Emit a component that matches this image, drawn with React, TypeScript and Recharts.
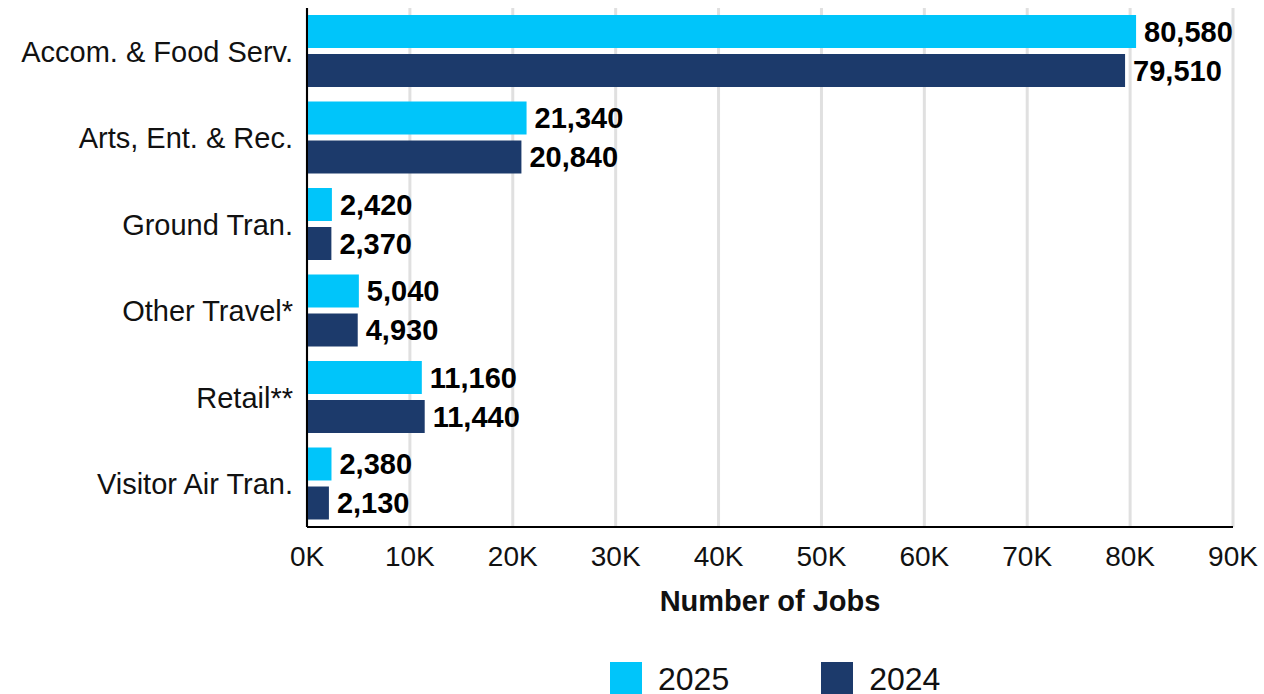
import { BarChart, Bar, XAxis, YAxis, CartesianGrid, Legend, LabelList } from 'recharts';

const categories = [
  'Accom. & Food Serv.',
  'Arts, Ent. & Rec.',
  'Ground Tran.',
  'Other Travel*',
  'Retail**',
  'Visitor Air Tran.',
];
const jobs2025 = [80580, 21340, 2420, 5040, 11160, 2380];
const jobs2024 = [79510, 20840, 2370, 4930, 11440, 2130];
const xTicks = [0, 10000, 20000, 30000, 40000, 50000, 60000, 70000, 80000, 90000];

const COLOR_2025 = '#00c5fa';
const COLOR_2024 = '#1c3a6b';
const FONT = 'Liberation Sans, Arial, sans-serif';

const data = categories.map((name, i) => ({ name, y2025: jobs2025[i], y2024: jobs2024[i] }));

const fmt = (v: number) => v.toLocaleString('en-US');

function LegendBox() {
  const items = [
    { label: '2025', color: COLOR_2025 },
    { label: '2024', color: COLOR_2024 },
  ];
  return (
    <div style={{ height: 50, display: 'flex', paddingLeft: 610, boxSizing: 'border-box', fontFamily: FONT }}>
      {items.map((it, i) => (
        <div key={it.label} style={{ display: 'flex', alignItems: 'flex-start', marginLeft: i ? 92 : 0, paddingTop: 18 }}>
          <span style={{ width: 32, height: 32, background: it.color, display: 'inline-block', marginRight: 16 }} />
          <span style={{ fontSize: 32, lineHeight: '32px', color: '#111', marginTop: 1 }}>{it.label}</span>
        </div>
      ))}
    </div>
  );
}

export default function App() {
  return (
    <div style={{ position: 'absolute', left: 0, top: 0, background: '#fff' }}>
      <BarChart
        width={1264}
        height={694}
        data={data}
        layout="vertical"
        margin={{ top: 8, right: 31, bottom: 0, left: 0 }}
        barSize={33}
        barGap={6}
      >
        <CartesianGrid horizontal={false} stroke="#e0e0e0" strokeWidth={3} />
        <XAxis
          type="number"
          domain={[0, 90000]}
          ticks={xTicks}
          tickFormatter={(v: number) => `${v / 1000}K`}
          tickLine={false}
          axisLine={{ stroke: '#000', strokeWidth: 2 }}
          tick={{ fontSize: 28, fill: '#111', fontFamily: FONT }}
          tickMargin={13}
          height={117}
          label={{
            value: 'Number of Jobs',
            position: 'insideBottom',
            offset: 33,
            style: { fontSize: 29, fontWeight: 'bold', fill: '#111', fontFamily: FONT },
          }}
        />
        <YAxis
          type="category"
          dataKey="name"
          width={307}
          tickLine={false}
          axisLine={{ stroke: '#000', strokeWidth: 2 }}
          tick={{ fontSize: 29, fill: '#111', fontFamily: FONT }}
          tickMargin={8}
        />
        <Legend verticalAlign="bottom" content={() => <LegendBox />} wrapperStyle={{ left: 0, width: 1264, bottom: 0 }} />
        <Bar dataKey="y2025" name="2025" fill={COLOR_2025} isAnimationActive={false}>
          <LabelList
            dataKey="y2025"
            position="right"
            offset={8}
            formatter={(v: number) => fmt(v)}
            style={{ fontSize: 29, fontWeight: 'bold', fill: '#000', fontFamily: FONT }}
          />
        </Bar>
        <Bar dataKey="y2024" name="2024" fill={COLOR_2024} isAnimationActive={false}>
          <LabelList
            dataKey="y2024"
            position="right"
            offset={8}
            formatter={(v: number) => fmt(v)}
            style={{ fontSize: 29, fontWeight: 'bold', fill: '#000', fontFamily: FONT }}
          />
        </Bar>
      </BarChart>
    </div>
  );
}
